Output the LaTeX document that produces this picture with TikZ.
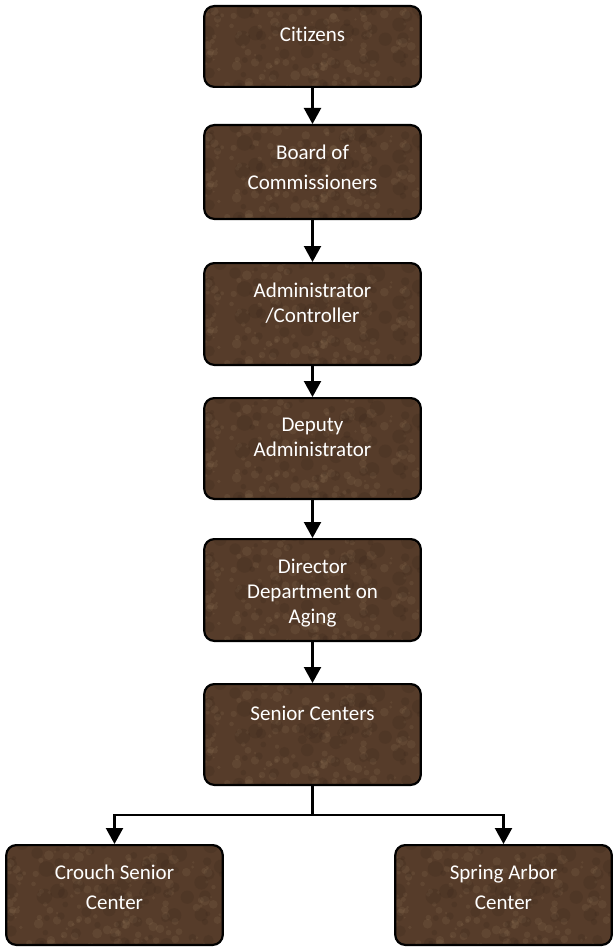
\documentclass[tikz,border=0pt]{standalone}
\usepackage{fontspec}
\setmainfont{Carlito}[Ligatures=NoCommon]
\usetikzlibrary{arrows.meta,positioning,calc}
\usepackage{xcolor}

\definecolor{marble}{RGB}{86,60,42}
\definecolor{vein}{RGB}{170,140,105}
\definecolor{pit}{RGB}{46,30,20}

\tikzset{
  orgbox/.style={draw=black, line width=2.2pt, rounded corners=10pt, fill=marble,
    minimum width=216.5pt, inner sep=0pt,
    path picture={
      \pgfmathsetseed{11}
      \foreach \k in {1,...,160}{
        \pgfmathsetmacro{\rx}{rnd*217}\pgfmathsetmacro{\ry}{rnd*105}\pgfmathsetmacro{\rr}{1+4*rnd}
        \fill[vein, opacity=0.13] ([shift={(\rx,\ry)}]path picture bounding box.south west) circle (\rr);
      }
      \foreach \k in {1,...,80}{
        \pgfmathsetmacro{\rx}{rnd*217}\pgfmathsetmacro{\ry}{rnd*105}\pgfmathsetmacro{\rr}{2+6*rnd}
        \fill[pit, opacity=0.16] ([shift={(\rx,\ry)}]path picture bounding box.south west) circle (\rr);
      }
    }},
  boxtext/.style={text=white, font=\fontsize{21}{25}\selectfont, align=center,
    anchor=north, inner sep=0pt, execute at begin node={\rule{0pt}{16pt}}},
  wide/.style={font=\fontsize{21}{29.5}\selectfont},
  link/.style={draw=black, line width=2.2pt},
  tip/.style={-{Triangle[width=17pt,length=16pt]}}
}

\begin{document}
\begin{tikzpicture}[x=1pt,y=1pt]
  \useasboundingbox (0,0) rectangle (613,-947);

  % chain of offices
  \node[orgbox, minimum height=80.8pt] (citizens) at (312.5,-46.5) {};
  \node[orgbox, minimum height=93.8pt] (board) at (312.5,-172) {};
  \node[orgbox, minimum height=101.8pt] (admin) at (312.5,-314) {};
  \node[orgbox, minimum height=100.8pt] (deputy) at (312.5,-448.5) {};
  \node[orgbox, minimum height=101.8pt] (director) at (312.5,-590) {};
  \node[orgbox, minimum height=100.8pt] (senior) at (312.5,-734.5) {};

  % the two centers
  \node[orgbox, minimum height=99.8pt] (crouch) at (114.5,-895) {};
  \node[orgbox, minimum height=99.8pt] (spring) at (503.5,-895) {};

  % labels
  \node[boxtext] (citizens-txt) at ([yshift=-20pt]citizens.north) {Citizens};
  \node[boxtext, wide] (board-txt) at ([yshift=-21pt]board.north) {Board of\\Commissioners};
  \node[boxtext] (admin-txt) at ([yshift=-21pt]admin.north) {Administrator\\/Controller};
  \node[boxtext] (deputy-txt) at ([yshift=-21pt]deputy.north) {Deputy\\Administrator};
  \node[boxtext] (director-txt) at ([yshift=-21pt]director.north) {Director\\Department on\\Aging};
  \node[boxtext] (senior-txt) at ([yshift=-21pt]senior.north) {Senior Centers};
  \node[boxtext, wide] (crouch-txt) at ([yshift=-21pt]crouch.north) {Crouch Senior\\Center};
  \node[boxtext, wide] (spring-txt) at ([yshift=-21pt]spring.north) {Spring Arbor\\Center};

  % arrows
  \draw[link, tip] (citizens) -- (board);
  \draw[link, tip] (board) -- (admin);
  \draw[link, tip] (admin) -- (deputy);
  \draw[link, tip] (deputy) -- (director);
  \draw[link, tip] (director) -- (senior);

  % fork to the centers
  \coordinate (fork) at (312.5,-815);
  \draw[link] (senior.south) -- (fork);
  \draw[link, tip] (fork) -| (crouch.north);
  \draw[link, tip] (fork) -| (spring.north);
\end{tikzpicture}
\end{document}
